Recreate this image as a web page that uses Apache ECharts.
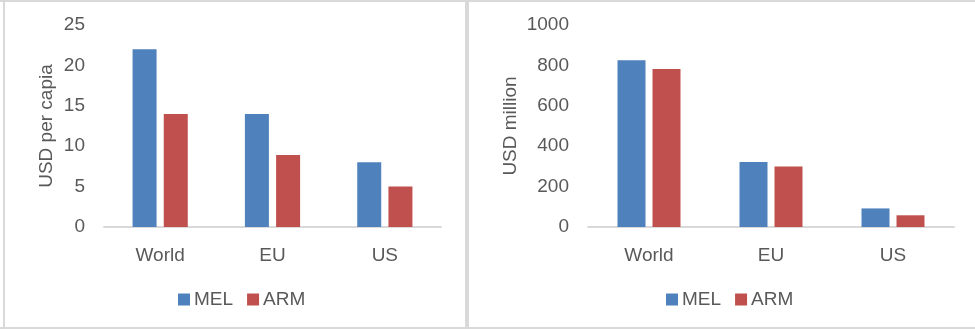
<!DOCTYPE html>
<html>
<head>
<meta charset="utf-8">
<script src="https://cdn.jsdelivr.net/npm/echarts@6/dist/echarts.min.js"></script>
<style>
  html, body { margin: 0; padding: 0; background: #fff; }
  #chart { width: 975px; height: 329px; }
</style>
</head>
<body>
<div id="chart"></div>
<script>
// 数据
const categories = ['World', 'EU', 'US'];
const perCapitaMel = [22, 14, 8];
const perCapitaArm = [14, 8.9, 5];
const millionMel = [825, 322, 92];
const millionArm = [782, 300, 58];

const BLUE = '#4f81bd';
const RED = '#c0504d';
const TEXT = '#595959';
const FONT = 'Liberation Sans';
const FS = 19;

const chart = echarts.init(document.getElementById('chart'));

const catAxis = (gridIndex) => ({
  type: 'category',
  gridIndex,
  data: categories,
  axisLine: { lineStyle: { color: '#d9d9d9', width: 2 } },
  axisTick: { show: false },
  axisLabel: { color: TEXT, fontSize: FS, fontFamily: FONT, margin: 19 },
});

const valAxis = (gridIndex, name, max, interval, nameGap) => ({
  type: 'value',
  gridIndex,
  min: 0,
  max,
  interval,
  name,
  nameLocation: 'middle',
  nameRotate: 90,
  nameGap,
  nameTextStyle: { color: TEXT, fontSize: FS, fontFamily: FONT },
  axisLine: { show: false },
  axisTick: { show: false },
  splitLine: { show: false },
  axisLabel: { color: TEXT, fontSize: FS, fontFamily: FONT, margin: 19, formatter: (v) => String(v) },
});

const legend = (left) => ({
  data: ['MEL', 'ARM'],
  left,
  top: 290,
  padding: 0,
  icon: 'rect',
  itemWidth: 12,
  itemHeight: 12,
  itemGap: 14,
  textStyle: { color: TEXT, fontSize: FS, fontFamily: FONT, padding: [0, 0, 0, -1] },
});

const option = {
  animation: false,
  backgroundColor: '#fff',
  graphic: [
    // 面板边框
    { type: 'line', shape: { x1: 0, y1: 1, x2: 975, y2: 1 }, style: { stroke: '#d9d9d9', lineWidth: 2 } },
    { type: 'line', shape: { x1: 0, y1: 328, x2: 975, y2: 328 }, style: { stroke: '#d9d9d9', lineWidth: 2 } },
    { type: 'line', shape: { x1: 4, y1: 0, x2: 4, y2: 329 }, style: { stroke: '#d9d9d9', lineWidth: 2 } },
    { type: 'rect', shape: { x: 465, y: 0, width: 4, height: 329 }, style: { fill: '#d9d9d9' } },
  ],
  legend: [legend(178), legend(666)],
  grid: [
    { left: 104, right: 534, top: 25, bottom: 102 },
    { left: 588, right: 21, top: 25, bottom: 102 },
  ],
  xAxis: [catAxis(0), catAxis(1)],
  yAxis: [
    valAxis(0, 'USD per capia', 25, 5, 48),
    valAxis(1, 'USD million', 1000, 200, 68),
  ],
  series: [
    { name: 'MEL', type: 'bar', xAxisIndex: 0, yAxisIndex: 0, barWidth: 24, barGap: '30%', itemStyle: { color: BLUE }, data: perCapitaMel },
    { name: 'ARM', type: 'bar', xAxisIndex: 0, yAxisIndex: 0, barWidth: 24, barGap: '30%', itemStyle: { color: RED }, data: perCapitaArm },
    { name: 'MEL', type: 'bar', xAxisIndex: 1, yAxisIndex: 1, barWidth: 28, barGap: '25%', itemStyle: { color: BLUE }, data: millionMel },
    { name: 'ARM', type: 'bar', xAxisIndex: 1, yAxisIndex: 1, barWidth: 28, barGap: '25%', itemStyle: { color: RED }, data: millionArm },
  ],
};

chart.setOption(option);
</script>
</body>
</html>
